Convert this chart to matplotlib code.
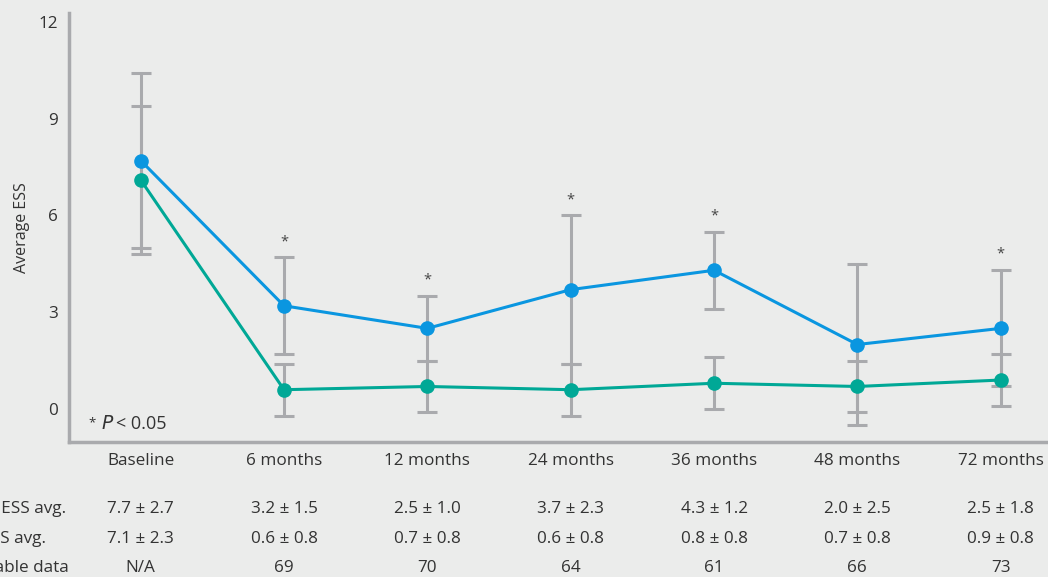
import matplotlib
matplotlib.use("Agg")
import matplotlib.pyplot as plt
import numpy as np

plt.rcParams['font.family'] = ['Open Sans', 'DejaVu Sans']

categories = ["Baseline", "6 months", "12 months", "24 months", "36 months", "48 months", "72 months"]
ess_mean = [7.7, 3.2, 2.5, 3.7, 4.3, 2.0, 2.5]
ess_sd = [2.7, 1.5, 1.0, 2.3, 1.2, 2.5, 1.8]
sub_mean = [7.1, 0.6, 0.7, 0.6, 0.8, 0.7, 0.9]
sub_sd = [2.3, 0.8, 0.8, 0.8, 0.8, 0.8, 0.8]
available = ["N/A", "69", "70", "64", "61", "66", "73"]
significant = [False, True, True, True, True, False, True]
row_labels = ["Total ESS avg.", "All ESS avg.", "Available data"]
y_ticks = [0, 3, 6, 9, 12]

BG = "#ebeceb"
BLUE = "#0a96e0"
GREEN = "#00a896"
GRAY = "#a9aaad"
TXT = "#333333"
FS = 12.3

W, H = 1048, 577
fig = plt.figure(figsize=(W / 100, H / 100), dpi=100, facecolor=BG)
ax = fig.add_axes([69 / W, (H - 442) / H, (W - 69) / W, (442 - 13) / H])
ax.set_facecolor(BG)

x = np.arange(len(categories))
ax.errorbar(x, ess_mean, yerr=ess_sd, fmt='none', ecolor=GRAY, elinewidth=2.2,
            capsize=7, capthick=2.2, zorder=1)
ax.errorbar(x, sub_mean, yerr=sub_sd, fmt='none', ecolor=GRAY, elinewidth=2.2,
            capsize=7, capthick=2.2, zorder=1)
ax.plot(x, ess_mean, color=BLUE, lw=2.2, marker='o', ms=9.5, zorder=3)
ax.plot(x, sub_mean, color=GREEN, lw=2.2, marker='o', ms=9.5, zorder=2)

for xi, m, s, sig in zip(x, ess_mean, ess_sd, significant):
    if sig:
        ax.annotate("*", (xi, m + s), xytext=(0, 6), textcoords='offset points',
                    ha='center', va='bottom', fontsize=10.5, color='#444444')

ax.set_xlim(-0.5, 6.33)
ax.set_ylim(-1.02, 12.27)
ax.set_yticks(y_ticks)
ax.set_yticklabels([str(t) for t in y_ticks], fontsize=FS, color=TXT)
ax.tick_params(axis='y', length=0, pad=8)
ax.set_xticks(x)
ax.set_xticklabels(categories, fontsize=FS, color=TXT)
ax.tick_params(axis='x', length=0, pad=8)
for sp in ['top', 'right']:
    ax.spines[sp].set_visible(False)
for sp in ['left', 'bottom']:
    ax.spines[sp].set_color(GRAY)
    ax.spines[sp].set_linewidth(2.5)
ax.set_ylabel("Average ESS", fontsize=11.5, color=TXT, labelpad=6)

ax.text(0.02, 0.03, "*", transform=ax.transAxes, fontsize=9.5, color=TXT,
        ha='left', va='bottom')
ax.text(0.033, 0.022, r"$\it{P}$", transform=ax.transAxes, fontsize=13.5, color=TXT,
        ha='left', va='bottom')
ax.text(0.0475, 0.022, "< 0.05", transform=ax.transAxes, fontsize=13, color=TXT,
        ha='left', va='bottom')

# table below
rows = [["%.1f ± %.1f" % (m, s) for m, s in zip(ess_mean, ess_sd)],
        ["%.1f ± %.1f" % (m, s) for m, s in zip(sub_mean, sub_sd)],
        available]
row_y = [509, 539, 568]
trans = matplotlib.transforms.blended_transform_factory(ax.transData, fig.transFigure)
for r, yy in zip(range(3), row_y):
    fy = (H - yy) / H
    for xi, val in zip(x, rows[r]):
        ax.text(xi, fy, val, transform=trans, ha='center', va='center',
                fontsize=FS, color=TXT, clip_on=False)
    fig.text(-43 / W, fy, row_labels[r], ha='left', va='center', fontsize=FS, color=TXT)

fig.savefig("out.png", dpi=100, facecolor=BG)
